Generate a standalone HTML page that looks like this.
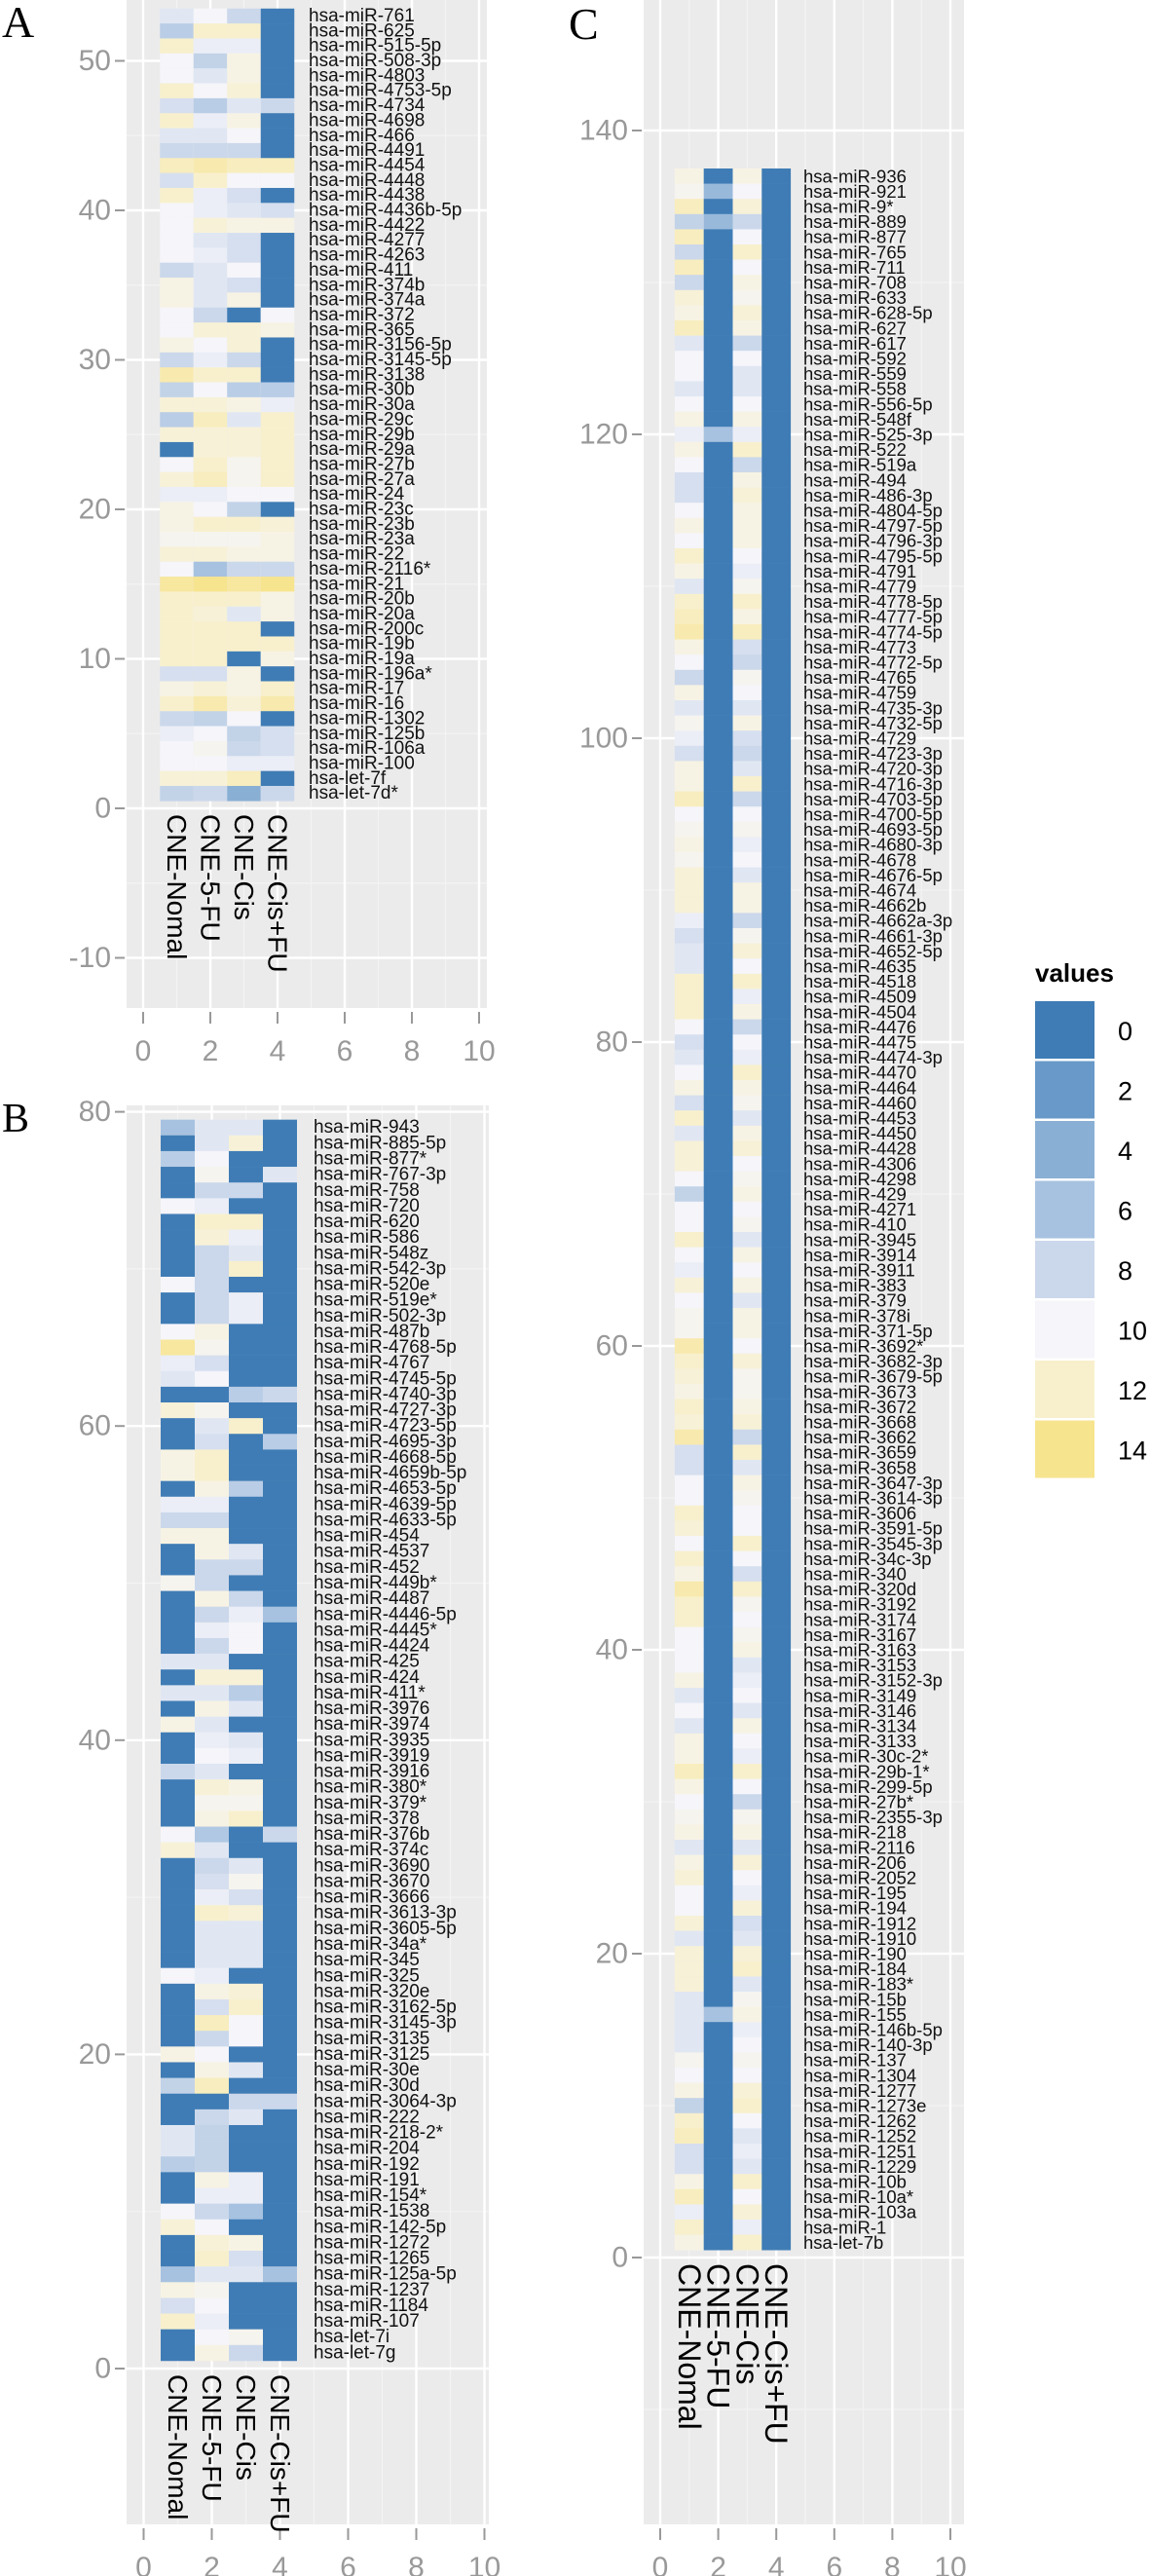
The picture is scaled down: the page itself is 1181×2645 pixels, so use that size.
<!DOCTYPE html>
<html><head><meta charset="utf-8"><style>
html,body{margin:0;padding:0;background:#fff;}
svg{display:block;font-family:"Liberation Sans",Arial,sans-serif;}
</style></head><body>
<svg id="chart" width="1181" height="2645" viewBox="0 0 1181 2645" xmlns="http://www.w3.org/2000/svg">
<text x="2" y="38" font-family="Liberation Serif,serif" font-size="46">A</text>
<text x="2" y="1162" font-family="Liberation Serif,serif" font-size="42">B</text>
<text x="584" y="40" font-family="Liberation Serif,serif" font-size="46">C</text>
<g id="legend"></g>
</svg>
<script>
const conditions = ["CNE-Nomal","CNE-5-FU","CNE-Cis","CNE-Cis+FU"];
const legendValues = [0,2,4,6,8,10,12,14];

const aLabels = ["hsa-miR-761","hsa-miR-625","hsa-miR-515-5p","hsa-miR-508-3p","hsa-miR-4803","hsa-miR-4753-5p","hsa-miR-4734","hsa-miR-4698","hsa-miR-466","hsa-miR-4491","hsa-miR-4454","hsa-miR-4448","hsa-miR-4438","hsa-miR-4436b-5p","hsa-miR-4422","hsa-miR-4277","hsa-miR-4263","hsa-miR-411","hsa-miR-374b","hsa-miR-374a","hsa-miR-372","hsa-miR-365","hsa-miR-3156-5p","hsa-miR-3145-5p","hsa-miR-3138","hsa-miR-30b","hsa-miR-30a","hsa-miR-29c","hsa-miR-29b","hsa-miR-29a","hsa-miR-27b","hsa-miR-27a","hsa-miR-24","hsa-miR-23c","hsa-miR-23b","hsa-miR-23a","hsa-miR-22","hsa-miR-2116*","hsa-miR-21","hsa-miR-20b","hsa-miR-20a","hsa-miR-200c","hsa-miR-19b","hsa-miR-19a","hsa-miR-196a*","hsa-miR-17","hsa-miR-16","hsa-miR-1302","hsa-miR-125b","hsa-miR-106a","hsa-miR-100","hsa-let-7f","hsa-let-7d*"];
const aNormal = [9,7,12,10,10,12,8.5,12,9,8, 12.5,8.5,12,10,10,10,10,8,11,11, 10,10,11,8,13,7.5,11.5,7,11.5,0, 10,11.5,9.5,11,11,10.5,11.5,10,13.5,12, 12,12,12,12,8.5,11,12,8,9.5,10, 10,11.5,7.5];
const a5FU = [10,12,9.5,7.5,9,10,7,9.5,9,8, 13,12,9.5,9.5,11.5,9,9.5,9,9,9, 8,11.5,10,9.5,12,10,11.5,12.5,11.5,11.5, 12,12.5,9.5,10,12,10.5,11.5,6,14,12, 11.5,12,12,12,8.5,11.5,13,7.5,10,10.5, 10,11.5,8];
const aCis = [8,12,9.5,11,11,11.5,9,11,10,8, 12.5,10,8.5,9,11,8.5,8.5,10,8.5,11, 0,11.5,11.5,8,12,7,11,9,11.5,11.5, 10.5,10.5,10,7.5,12,10.5,11,8,13.5,12, 9,12,12,0,11,11,11.5,10,7.5,8, 9.5,12.5,4];
const aCisFU = [0,0,0,0,0,0,8,0,0,0, 12.5,10,0,8.5,11,0,0,0,0,0, 10,11,0,0,0,7,9.5,12,12,12, 12,12,10,0,11.5,11,11,8,14,11, 11,0,12,11,0,12,13,0,8.5,8.5, 9.5,0,8];

const bLabels = ["hsa-miR-943","hsa-miR-885-5p","hsa-miR-877*","hsa-miR-767-3p","hsa-miR-758","hsa-miR-720","hsa-miR-620","hsa-miR-586","hsa-miR-548z","hsa-miR-542-3p","hsa-miR-520e","hsa-miR-519e*","hsa-miR-502-3p","hsa-miR-487b","hsa-miR-4768-5p","hsa-miR-4767","hsa-miR-4745-5p","hsa-miR-4740-3p","hsa-miR-4727-3p","hsa-miR-4723-5p","hsa-miR-4695-3p","hsa-miR-4668-5p","hsa-miR-4659b-5p","hsa-miR-4653-5p","hsa-miR-4639-5p","hsa-miR-4633-5p","hsa-miR-454","hsa-miR-4537","hsa-miR-452","hsa-miR-449b*","hsa-miR-4487","hsa-miR-4446-5p","hsa-miR-4445*","hsa-miR-4424","hsa-miR-425","hsa-miR-424","hsa-miR-411*","hsa-miR-3976","hsa-miR-3974","hsa-miR-3935","hsa-miR-3919","hsa-miR-3916","hsa-miR-380*","hsa-miR-379*","hsa-miR-378","hsa-miR-376b","hsa-miR-374c","hsa-miR-3690","hsa-miR-3670","hsa-miR-3666","hsa-miR-3613-3p","hsa-miR-3605-5p","hsa-miR-34a*","hsa-miR-345","hsa-miR-325","hsa-miR-320e","hsa-miR-3162-5p","hsa-miR-3145-3p","hsa-miR-3135","hsa-miR-3125","hsa-miR-30e","hsa-miR-30d","hsa-miR-3064-3p","hsa-miR-222","hsa-miR-218-2*","hsa-miR-204","hsa-miR-192","hsa-miR-191","hsa-miR-154*","hsa-miR-1538","hsa-miR-142-5p","hsa-miR-1272","hsa-miR-1265","hsa-miR-125a-5p","hsa-miR-1237","hsa-miR-1184","hsa-miR-107","hsa-let-7i","hsa-let-7g"];
const bNormal = [6,0,7,0,0,10,0,0,0,0, 10,0,0,10,13.5,9.5,9,0,11.5,0, 0,11,11,0,9.5,8,11,0,0,10.5, 0,0,0,0,9,0,9,0,11, 0,0,8,0,0,0,10,11.5,0,0,0,0, 0, 0,0,10,0,0,0,0,11,0,7.5,0,0,9,9,7,0,0, 10,11.5,0,0,6,11,8.5,12,0,0];
const b5FU = [9,9,10,10.5,8,9.5,12,11.5,8,8, 8,8,8,11,10.5,8.5,10,0,10.5,9, 8.5,12,12,11,9.5,8,11,11,8,8, 11,8,9.5,8,9,11.5,9,11,9, 9.5,10,9,11.5,10.5,11,6.5,9,8,8.5,9.5,12, 9, 9,9,9.5,11,8.5,12.5,8,10,11,12.5,0,8,7.5,7.5,7.5,11,9.5, 8,10,11.5,12,9,10.5,10,9.5,10,11];
const bCis = [9,11.5,0,0,8,0,12,9.5,9,12, 0,9.5,9.5,0,0,0,0,7,0,12, 0,0,0,7,0,0,0,9,8,0, 8,9.5,10,10,0,11.5,7,9,0, 9,9.5,0,11,10.5,12,0,0,9,10.5,8.5,11.5, 9, 9,9,0,11.5,12,10,10,0,9,0,8,9,0,0,0,9.5,9.5, 6,0,11,8.5,9,0,0,0,10.5,8];
const bCisFU = [0,0,0,9,0,0,0,0,0,0, 0,0,0,0,0,0,0,8,0,0, 7,0,0,0,0,0,0,0,0,0, 0,6,0,0,0,0,0,0,0, 0,0,0,0,0,0,8,0,0,0,0,0, 0, 0,0,0,0,0,0,0,0,0,0,8,0,0,0,0,0,0, 0,0,0,0,6,0,0,0,0,0];

const cLabels = ["hsa-miR-936","hsa-miR-921","hsa-miR-9*","hsa-miR-889","hsa-miR-877","hsa-miR-765","hsa-miR-711","hsa-miR-708","hsa-miR-633","hsa-miR-628-5p","hsa-miR-627","hsa-miR-617","hsa-miR-592","hsa-miR-559","hsa-miR-558","hsa-miR-556-5p","hsa-miR-548f","hsa-miR-525-3p","hsa-miR-522","hsa-miR-519a","hsa-miR-494","hsa-miR-486-3p","hsa-miR-4804-5p","hsa-miR-4797-5p","hsa-miR-4796-3p","hsa-miR-4795-5p","hsa-miR-4791","hsa-miR-4779","hsa-miR-4778-5p","hsa-miR-4777-5p","hsa-miR-4774-5p","hsa-miR-4773","hsa-miR-4772-5p","hsa-miR-4765","hsa-miR-4759","hsa-miR-4735-3p","hsa-miR-4732-5p","hsa-miR-4729","hsa-miR-4723-3p","hsa-miR-4720-3p","hsa-miR-4716-3p","hsa-miR-4703-5p","hsa-miR-4700-5p","hsa-miR-4693-5p","hsa-miR-4680-3p","hsa-miR-4678","hsa-miR-4676-5p","hsa-miR-4674","hsa-miR-4662b","hsa-miR-4662a-3p","hsa-miR-4661-3p","hsa-miR-4652-5p","hsa-miR-4635","hsa-miR-4518","hsa-miR-4509","hsa-miR-4504","hsa-miR-4476","hsa-miR-4475","hsa-miR-4474-3p","hsa-miR-4470","hsa-miR-4464","hsa-miR-4460","hsa-miR-4453","hsa-miR-4450","hsa-miR-4428","hsa-miR-4306","hsa-miR-4298","hsa-miR-429","hsa-miR-4271","hsa-miR-410","hsa-miR-3945","hsa-miR-3914","hsa-miR-3911","hsa-miR-383","hsa-miR-379","hsa-miR-378i","hsa-miR-371-5p","hsa-miR-3692*","hsa-miR-3682-3p","hsa-miR-3679-5p","hsa-miR-3673","hsa-miR-3672","hsa-miR-3668","hsa-miR-3662","hsa-miR-3659","hsa-miR-3658","hsa-miR-3647-3p","hsa-miR-3614-3p","hsa-miR-3606","hsa-miR-3591-5p","hsa-miR-3545-3p","hsa-miR-34c-3p","hsa-miR-340","hsa-miR-320d","hsa-miR-3192","hsa-miR-3174","hsa-miR-3167","hsa-miR-3163","hsa-miR-3153","hsa-miR-3152-3p","hsa-miR-3149","hsa-miR-3146","hsa-miR-3134","hsa-miR-3133","hsa-miR-30c-2*","hsa-miR-29b-1*","hsa-miR-299-5p","hsa-miR-27b*","hsa-miR-2355-3p","hsa-miR-218","hsa-miR-2116","hsa-miR-206","hsa-miR-2052","hsa-miR-195","hsa-miR-194","hsa-miR-1912","hsa-miR-1910","hsa-miR-190","hsa-miR-184","hsa-miR-183*","hsa-miR-15b","hsa-miR-155","hsa-miR-146b-5p","hsa-miR-140-3p","hsa-miR-137","hsa-miR-1304","hsa-miR-1277","hsa-miR-1273e","hsa-miR-1262","hsa-miR-1252","hsa-miR-1251","hsa-miR-1229","hsa-miR-10b","hsa-miR-10a*","hsa-miR-103a","hsa-miR-1","hsa-let-7b"];
const cNormal = [11,10.5,12.5,7.5,12.5,8,12.5,8,11.5,11, 12.5,9,10,10,9,10,11,9.5,11,10, 8.5,8.5,10,11,10,12,11,9,12,12.5, 13,11,10,8,11,9,10.5,9.5,8.5,11, 11,12.5,10,10.5,11,10.5,11.5,11.5,11.5,9.5, 8.5,9,9,12,12,12,10,8.5,9,10, 11,8.5,12,9,11.5,11.5,10,7.5,10, 10,12,10,9.5,11.5,10,10.5,10.5,13,12, 11.5,11,12,11.5,13,8.5,8.5,10,10,12, 11.5,10,12,11,13,12,12,10,10,10, 11,9,10,9,11,11,12.5,11,10,10.5, 11,9,11,11.5,10,10,11.5,9,11.5,11.5, 11.5,9,9,9,9,10.5,10,11,7.5,12, 12.5,8.5,8.5,11,12.5,9.5,12,11];
const c5FU = [0,5,0,5,0,0,0,0,0,0, 0,0,0,0,0,0,0,6,0,0, 0,0,0,0,0,0,0,0,0,0, 0,0,0,0,0,0,0,0,0,0, 0,0,0,0,0,0,0,0,0,0, 0,0,0,0,0,0,0,0,0,0, 0,0,0,0,0,0,0,0,0, 0,0,0,0,0,0,0,0,0,0, 0,0,0,0,0,0,0,0,0,0, 0,0,0,0,0,0,0,0,0,0, 0,0,0,0,0,0,0,0,0,0, 0,0,0,0,0,0,0,0,0,0, 0,0,6,0,0,0,0,0,0,0, 0,0,0,0,0,0,0,0];
const cCis = [11,10,11.5,8,10,12,10,11,10.5,11.5, 11,8,10,9,9,10,11,9.5,12,8, 11,11.5,11,11,11,10,9.5,10.5,12,11, 12.5,8.5,8,10.5,10,9,11,8.5,8,9, 12,8,10,10.5,9.5,10,9,11,11,8, 10.5,11.5,10,12,9.5,11,8,10,9.5,12, 11,10.5,9,11,11.5,10,10.5,11,10, 10.5,9,11,10,11,9,11,11,10,11.5, 10.5,10.5,11,11.5,8,12,9,11,10.5,10, 10,12,10,8.5,12,10.5,10,10.5,11,9, 9.5,10,9,11,10,9.5,12,10,8,10.5, 11,9,11.5,10,9.5,11.5,8.5,9,11.5,12, 9,10.5,11,9.5,10,10.5,10,11.5,12,10, 9,9.5,9,12,10,11.5,9.5,12];
const cCisFU = cLabels.map(function(){ return 0; });

const SVGNS = "http://www.w3.org/2000/svg";
const svg = document.getElementById("chart");
const stops = [[0,[63,124,181]],[2,[104,153,200]],[4,[138,175,212]],[6,[167,194,224]],[8,[203,216,235]],[10,[245,245,250]],[12,[248,240,205]],[14,[247,228,143]],[15,[246,222,118]]];
function color(v){
  if (v<=stops[0][0]) return "rgb("+stops[0][1].join(",")+")";
  for (let i=1;i<stops.length;i++){
    if (v<=stops[i][0]){
      const a=stops[i-1], b=stops[i], t=(v-a[0])/(b[0]-a[0]);
      const c=a[1].map((x,k)=>Math.round(x+(b[1][k]-x)*t));
      return "rgb("+c.join(",")+")";
    }
  }
  return "rgb("+stops[stops.length-1][1].join(",")+")";
}
function mk(tag, attrs, parent){
  const e=document.createElementNS(SVGNS,tag);
  for (const k in attrs) e.setAttribute(k, attrs[k]);
  (parent||svg).appendChild(e);
  return e;
}

function drawPanel(p, labels, cols){
  const g = mk("g", {});
  
  
  const X = v => p.x0 + v*p.ux;
  const Y = v => p.y0 - v*p.uy;
  const bg = mk("rect", {x:p.left, y:p.top, width:p.right-p.left, height:p.bottom-p.top, fill:"#ebebeb"}, g);
  
  
  for (let v=1; v<=9; v+=2){
    mk("line",{x1:X(v),x2:X(v),y1:p.top,y2:p.bottom,stroke:"#f3f3f3","stroke-width":1.2},g);
  }
  for (let v=p.yMinor0; v<=p.yMax; v+=p.yStep){
    mk("line",{x1:p.left,x2:p.right,y1:Y(v),y2:Y(v),stroke:"#f3f3f3","stroke-width":1.2},g);
  }
  for (let v=0; v<=10; v+=2){
    mk("line",{x1:X(v),x2:X(v),y1:p.top,y2:p.bottom,stroke:"#fff","stroke-width":2.4},g);
    mk("line",{x1:X(v),x2:X(v),y1:p.bottom+4,y2:p.bottom+16,stroke:"#999","stroke-width":2},g);
    const tl = mk("text",{x:X(v),y:p.bottom+p.xLabDy,"text-anchor":"middle",fill:"#999","font-size":p.tickFont},g);
    tl.textContent = v;
    
    
  }
  p.yTicks.forEach(function(v){
    mk("line",{x1:p.left,x2:p.right,y1:Y(v),y2:Y(v),stroke:"#fff","stroke-width":2.4},g);
    mk("line",{x1:p.left-12,x2:p.left-2,y1:Y(v),y2:Y(v),stroke:"#999","stroke-width":2},g);
    const tl = mk("text",{x:p.left-16,y:Y(v),"text-anchor":"end","dominant-baseline":"central",fill:"#999","font-size":p.tickFont},g);
    tl.textContent = v;
    
    
  });
  const n = labels.length;
  for (let i=0;i<n;i++){
    const yv = n - i;
    for (let c=0;c<4;c++){
      const r = mk("rect",{x:X(c+1-0.5), y:Y(yv+0.5), width:p.ux, height:p.uy+0.3, fill:color(cols[c][i])},g);
      
      
    }
    const t = mk("text",{x:p.labX, y:Y(yv), "dominant-baseline":"central", fill:"#111", "font-size":p.rowFont},g);
    t.textContent = labels[i];
    
    
  }
  conditions.forEach(function(lab, c){
    const cx = X(c+1), cy = Y(0)+6;
    const t = mk("text",{x:0,y:0,transform:"translate("+cx+","+cy+") rotate(90)","dominant-baseline":"central",fill:"#000","font-size":p.colFont},g);
    t.textContent = lab;
    
    
  });
}

drawPanel({name:"panel-a", left:130,right:500,top:0,bottom:1035, x0:147,ux:34.5, y0:830,uy:15.35,
  yTicks:[-10,0,10,20,30,40,50], yStep:10, yMinor0:-5, yMax:54, labX:317, rowFont:19, colFont:28, tickFont:30, xLabDy:54},
  aLabels, [aNormal,a5FU,aCis,aCisFU]);
drawPanel({name:"panel-b", left:130,right:502,top:1135,bottom:2592, x0:147.5,ux:35, y0:2432,uy:16.13,
  yTicks:[0,20,40,60,80], yStep:20, yMinor0:10, yMax:80, labX:322, rowFont:19, colFont:28, tickFont:30, xLabDy:54},
  bLabels, [bNormal,b5FU,bCis,bCisFU]);
drawPanel({name:"panel-c", left:661,right:990,top:0,bottom:2592, x0:678,ux:29.8, y0:2318,uy:15.6,
  yTicks:[0,20,40,60,80,100,120,140], yStep:20, yMinor0:-10, yMax:148, labX:825, rowFont:18.5, colFont:32, tickFont:30, xLabDy:54},
  cLabels, [cNormal,c5FU,cCis,cCisFU]);

const lg = document.getElementById("legend");
const title = mk("text",{x:1063,y:1008,"font-size":26,"font-weight":"bold",fill:"#000"},lg);
title.textContent = "values";


legendValues.forEach(function(v,i){
  const top = 1028 + i*61.5;
  const r = mk("rect",{x:1063,y:top,width:61,height:59,fill:color(v)},lg);
  
  
  const t = mk("text",{x:1148,y:top+31,"dominant-baseline":"central","font-size":27,fill:"#000"},lg);
  t.textContent = v;
  
  
});
</script>
</body></html>
